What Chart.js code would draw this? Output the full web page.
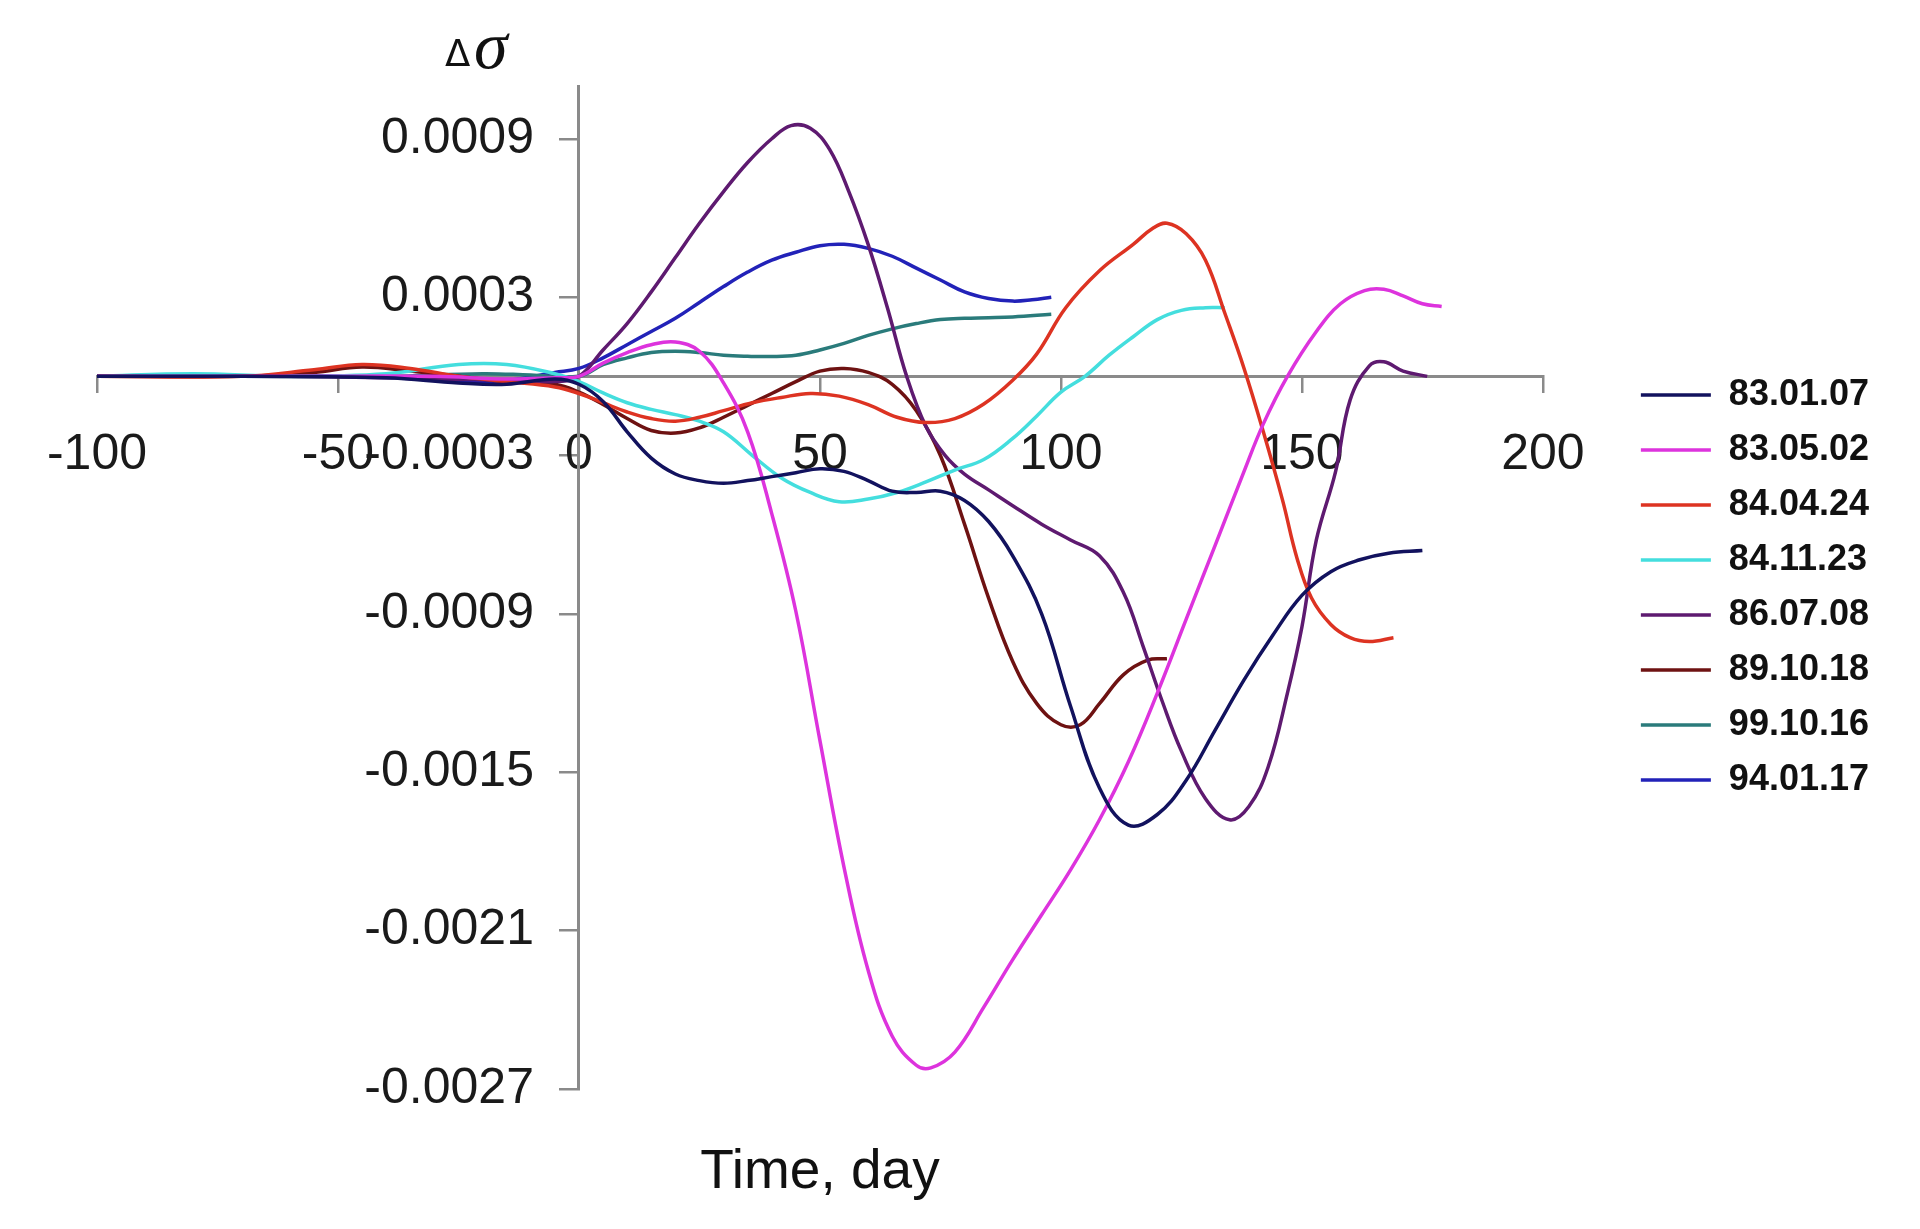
<!DOCTYPE html>
<html>
<head>
<meta charset="utf-8">
<script src="https://cdn.jsdelivr.net/npm/chart.js@4.4.1/dist/chart.umd.min.js"></script>
<style>
html, body { margin: 0; padding: 0; background: #ffffff; }
#wrap { position: relative; width: 1920px; height: 1229px; }
.ylab { position: absolute; color: #111; white-space: nowrap; }
#delta { left: 445px; top: 35px; font-family: 'DejaVu Sans', sans-serif; font-size: 37px; line-height: 37px; }
#sig { left: 474px; top: 11px; font-family: 'Liberation Serif', serif; font-style: italic; font-size: 68px; line-height: 68px; }
</style>
</head>
<body>
<div id="wrap">
  <canvas id="c"></canvas>
  <span id="delta" class="ylab">Δ</span><span id="sig" class="ylab">σ</span>
</div>
<script>
// ---- data ----
const seriesNames = ['83.01.07', '83.05.02', '84.04.24', '84.11.23', '86.07.08', '89.10.18', '99.10.16', '94.01.17'];
const seriesColors = ['#12125e', '#dd33dd', '#dd3322', '#44dede', '#5e1a70', '#6e1212', '#2a7b7b', '#2222b8'];

const xTicks = [-100, -50, 0, 50, 100, 150, 200];
const yTicks = [-0.0027, -0.0021, -0.0015, -0.0009, -0.0003, 0.0003, 0.0009];

const days_830107 = [-100,-70,-40,-25,-15,-5,0,5,10,15,20,25,30,35,40,45,50,55,60,65,70,75,80,85,90,96,102,108,114,120,126,132,138,144,150,156,162,168,175];
const vals_830107 = [0,0,-0.000005,-0.000025,-0.00003,-0.00001,-0.00003,-0.000095,-0.00021,-0.00031,-0.00037,-0.000395,-0.000405,-0.000395,-0.00038,-0.000365,-0.00035,-0.00036,-0.000395,-0.000435,-0.00044,-0.000435,-0.00047,-0.00055,-0.00068,-0.0009,-0.00125,-0.00156,-0.0017,-0.00166,-0.00153,-0.00134,-0.00115,-0.00098,-0.00083,-0.00074,-0.000695,-0.00067,-0.00066];

const days_830502 = [-100,-60,-30,-15,-5,0,5,10,15,20,25,30,35,40,45,50,55,60,65,70,73,78,84,90,96,102,108,114,120,126,132,138,142,147,153,158,163,167,171,175,179];
const vals_830502 = [0,0,0,-0.00001,-0.000005,0,0.00005,0.00009,0.00012,0.00013,0.000095,-0.000025,-0.00021,-0.00052,-0.00089,-0.00138,-0.00186,-0.00225,-0.0025,-0.00261,-0.00262,-0.00256,-0.00239,-0.00221,-0.00204,-0.00187,-0.00168,-0.00146,-0.0012,-0.00092,-0.00064,-0.00036,-0.00018,0,0.00017,0.000275,0.000325,0.00033,0.000305,0.000275,0.000265];

const days_840424 = [-100,-70,-55,-45,-35,-25,-15,-5,0,5,10,15,20,25,30,36,42,48,54,60,66,72,78,84,90,95,101,108,115,119,122,126,130,134,138,142,146,149,152,156,160,164,169];
const vals_840424 = [0,0,0.000025,0.000045,0.00003,0,-0.00002,-0.00004,-0.000065,-0.0001,-0.000135,-0.00016,-0.00017,-0.000155,-0.00013,-0.0001,-0.00008,-0.000065,-0.000075,-0.000107,-0.000155,-0.000175,-0.00016,-0.000105,-0.000015,0.000085,0.00026,0.0004,0.0005,0.00056,0.00058,0.00054,0.00044,0.00024,0.00003,-0.00021,-0.00047,-0.00069,-0.00084,-0.00094,-0.00099,-0.001005,-0.00099];

const days_841123 = [-100,-80,-60,-40,-25,-15,-5,0,5,10,15,20,25,30,36,42,48,54,60,66,72,78,84,90,95,100,105,110,115,120,125,130,134];
const vals_841123 = [0,0.00001,0,0.00001,0.000045,0.000045,0.00001,-0.00002,-0.000063,-0.0001,-0.000125,-0.000145,-0.00017,-0.00021,-0.0003,-0.000385,-0.00044,-0.000475,-0.000465,-0.00044,-0.0004,-0.000355,-0.000315,-0.000235,-0.00015,-0.00006,0,0.00008,0.00015,0.000215,0.00025,0.00026,0.00026];

const days_860708 = [-100,-60,-30,-15,-5,0,5,10,15,20,25,30,35,40,44,48,52,56,60,64,68,72,76,80,85,90,96,102,108,113,117,121,125,130,135,139,143,147,150,153,157,160,164,167,171,176];
const vals_860708 = [0,0,-0.00001,-0.000015,-0.00002,0,0.0001,0.0002,0.00032,0.00045,0.00058,0.0007,0.00081,0.0009,0.00095,0.00094,0.00086,0.0007,0.0005,0.00026,0,-0.00019,-0.0003,-0.00037,-0.00043,-0.00049,-0.00056,-0.00062,-0.00068,-0.00082,-0.00102,-0.00123,-0.00142,-0.0016,-0.00168,-0.00163,-0.00148,-0.0012,-0.00095,-0.00062,-0.00036,-0.00009,0.00004,0.000055,0.00002,0];

const days_891018 = [-100,-70,-55,-45,-35,-25,-15,-5,0,5,10,15,20,25,30,35,40,45,50,55,60,65,70,75,80,85,90,95,100,104,108,113,118,122];
const vals_891018 = [0,0,0.000015,0.000035,0.00002,0,-0.00002,-0.00003,-0.00006,-0.000107,-0.00016,-0.000205,-0.000215,-0.000195,-0.000155,-0.00011,-0.000065,-0.00002,0.00002,0.00003,0.000015,-0.00003,-0.00013,-0.0003,-0.00056,-0.00084,-0.00108,-0.00124,-0.00132,-0.00132,-0.00124,-0.00113,-0.001075,-0.00107];

const days_991016 = [-100,-70,-40,-20,-10,0,5,10,15,20,25,30,35,40,45,50,55,60,65,70,75,80,85,90,98];
const vals_991016 = [0,0,0,0.00001,0.000005,0,0.000044,0.00007,0.00009,0.000095,0.00009,0.00008,0.000076,0.000075,0.00008,0.0001,0.000125,0.000155,0.00018,0.0002,0.000215,0.00022,0.000222,0.000225,0.000235];

const days_940117 = [-100,-70,-40,-25,-15,-5,0,5,10,15,20,25,30,35,40,45,50,55,60,65,70,75,80,85,90,94,98];
const vals_940117 = [0,0,0,-0.00002,-0.000015,0.000015,0.00003,0.00007,0.00012,0.00017,0.00022,0.00028,0.00034,0.000395,0.00044,0.00047,0.000495,0.0005,0.000485,0.000455,0.00041,0.000365,0.00032,0.000295,0.000285,0.00029,0.0003];

const seriesDays = [days_830107, days_830502, days_840424, days_841123, days_860708, days_891018, days_991016, days_940117];
const seriesVals = [vals_830107, vals_830502, vals_840424, vals_841123, vals_860708, vals_891018, vals_991016, vals_940117];

// ---- chart ----
Chart.defaults.font.family = "'Liberation Sans', Arial, sans-serif";
Chart.defaults.color = '#1a1a1a';

const datasets = seriesNames.map((name, i) => ({
  label: name,
  data: seriesDays[i].map((d, j) => ({ x: d, y: seriesVals[i][j] })),
  borderColor: seriesColors[i],
  backgroundColor: seriesColors[i],
  borderWidth: 3.5,
  pointRadius: 0,
  pointHoverRadius: 0,
  tension: 0.4,
  fill: false
}));

const axisGray = '#8a8a8a';
const yRange = { min: -0.0027, max: 0.0011 };
const setYTicks = (s) => { s.ticks = yTicks.map(v => ({ value: v })); };

new Chart(document.getElementById('c'), {
  type: 'line',
  data: { datasets },
  options: {
    responsive: true,
    maintainAspectRatio: false,
    animation: false,
    events: [],
    layout: { padding: { left: 97, top: 86, right: 41, bottom: 23 } },
    plugins: {
      legend: {
        display: true,
        position: 'right',
        fullSize: false,
        align: 'center',
        maxWidth: 500,
        labels: {
          usePointStyle: true,
          pointStyle: 'line',
          pointStyleWidth: 70,
          padding: 19,
          color: '#111',
          font: { size: 36, weight: 'bold' }
        }
      },
      title: {
        display: true,
        text: 'Time, day',
        position: 'bottom',
        fullSize: false,
        align: 'center',
        color: '#111',
        font: { size: 55, weight: 'normal' },
        padding: { top: 51, bottom: 0 }
      },
      tooltip: { enabled: false }
    },
    scales: {
      x: {
        type: 'linear',
        position: { y: 0 },
        min: -100,
        max: 200,
        afterBuildTicks: (s) => { s.ticks = xTicks.map(v => ({ value: v })); },
        grid: { display: true, drawOnChartArea: false, drawTicks: true, tickLength: 15, color: axisGray, lineWidth: 2.5 },
        border: { display: true, color: axisGray, width: 3 },
        ticks: { font: { size: 50 }, color: '#1a1a1a', padding: 34, maxRotation: 0, autoSkip: false,
                 callback: (v) => String(v) }
      },
      y: {
        type: 'linear',
        position: { x: 0 },
        min: yRange.min,
        max: yRange.max,
        afterBuildTicks: setYTicks,
        grid: { display: true, drawOnChartArea: false, drawTicks: true, tickLength: 18, color: axisGray, lineWidth: 2.5 },
        border: { display: true, color: axisGray, width: 3 },
        ticks: { display: false, autoSkip: false }
      },
      yLabels: {
        type: 'linear',
        axis: 'y',
        position: { x: -9.34 },
        min: yRange.min,
        max: yRange.max,
        afterBuildTicks: setYTicks,
        grid: { display: false },
        border: { display: false },
        ticks: { font: { size: 50 }, color: '#1a1a1a', autoSkip: false,
                 callback: (v) => Number(v).toFixed(4) }
      },
      ySpacer: {
        type: 'linear',
        axis: 'y',
        position: 'right',
        display: true,
        grid: { display: false, drawTicks: false },
        border: { display: false },
        ticks: { display: false },
        afterFit: (s) => { s.width = 79; }
      }
    }
  }
});
</script>
</body>
</html>
